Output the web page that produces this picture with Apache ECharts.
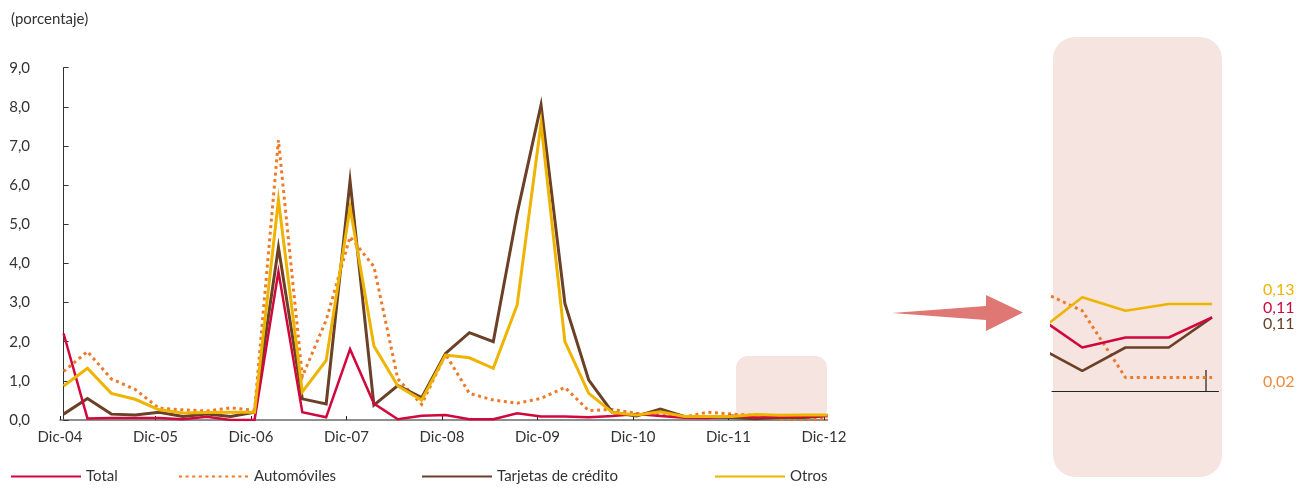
<!DOCTYPE html>
<html>
<head>
<meta charset="utf-8">
<script src="https://cdn.jsdelivr.net/npm/echarts@6/dist/echarts.min.js"></script>
<style>
  html, body { margin: 0; padding: 0; background: #ffffff; }
  #chart { width: 1302px; height: 488px; }
</style>
</head>
<body>
<div id="chart"></div>
<script>
// Quarterly periods, Dic-04 to Dic-12
const periods = [
  'Dic-04', 'Mar-05', 'Jun-05', 'Sep-05', 'Dic-05', 'Mar-06', 'Jun-06', 'Sep-06',
  'Dic-06', 'Mar-07', 'Jun-07', 'Sep-07', 'Dic-07', 'Mar-08', 'Jun-08', 'Sep-08',
  'Dic-08', 'Mar-09', 'Jun-09', 'Sep-09', 'Dic-09', 'Mar-10', 'Jun-10', 'Sep-10',
  'Dic-10', 'Mar-11', 'Jun-11', 'Sep-11', 'Dic-11', 'Mar-12', 'Jun-12', 'Sep-12',
  'Dic-12'
];

// Year-end tick labels on the time axis
const tickLabels = ['Dic-04', 'Dic-05', 'Dic-06', 'Dic-07', 'Dic-08', 'Dic-09', 'Dic-10', 'Dic-11', 'Dic-12'];

// Series values (porcentaje)
const total = [2.21, 0.04, 0.05, 0.05, 0.05, 0.02, 0.08, 0.00, 0.00, 3.79, 0.20, 0.07, 1.81, 0.42, 0.02, 0.11,
  0.13, 0.02, 0.02, 0.17, 0.09, 0.09, 0.07, 0.10, 0.15, 0.10, 0.06, 0.05, 0.11, 0.065, 0.08, 0.08, 0.11];
const automoviles = [1.24, 1.75, 1.05, 0.78, 0.30, 0.26, 0.23, 0.31, 0.25, 7.15, 1.11, 2.55, 4.68, 3.92, 1.05, 0.40,
  1.68, 0.68, 0.51, 0.43, 0.55, 0.83, 0.24, 0.27, 0.17, 0.13, 0.08, 0.20, 0.15, 0.12, 0.02, 0.02, 0.02];
const tarjetas = [0.15, 0.55, 0.15, 0.13, 0.20, 0.09, 0.15, 0.09, 0.20, 4.41, 0.54, 0.41, 6.11, 0.38, 0.88, 0.57,
  1.70, 2.23, 2.00, 5.28, 8.05, 2.98, 1.02, 0.19, 0.10, 0.28, 0.09, 0.07, 0.065, 0.03, 0.065, 0.065, 0.11];
const otros = [0.87, 1.32, 0.68, 0.53, 0.26, 0.18, 0.19, 0.20, 0.20, 5.62, 0.72, 1.52, 5.43, 1.89, 0.87, 0.51,
  1.66, 1.59, 1.32, 2.94, 7.58, 2.00, 0.68, 0.19, 0.13, 0.21, 0.09, 0.09, 0.09, 0.14, 0.12, 0.13, 0.13];

const seriesNames = ['Total', 'Automóviles', 'Tarjetas de crédito', 'Otros'];
const seriesValues = [total, automoviles, tarjetas, otros];
const colors = ['#d0083c', '#ec7a2a', '#6b4026', '#eeb400'];
const labelColors = ['#d0083c', '#f08a3c', '#6b4026', '#eeb400'];
const lineTypes = ['solid', [3, 3.6], 'solid', 'solid'];
const lineWidths = [2.5, 3, 3, 3];
const zOrder = [3, 2, 2, 4];

// The year ticks sit a little before each December point
const TICK_SHIFT = -0.15;
const tickValues = tickLabels.map((_, k) => k * 4 + TICK_SHIFT);
const insetStart = 28;          // first quarter shown in the magnified panel
const fontFamily = 'Lato, "Open Sans", sans-serif';
const txt = '#333333';

const fmt1 = v => v.toFixed(1).replace('.', ',');
const fmt2 = v => v.toFixed(2).replace('.', ',');

const pairs = (arr, from) => arr.slice(from).map((v, i) => [i + from, v]);

// End-label offsets in the magnified panel: Total, Automóviles, Tarjetas, Otros
const endOffsets = [[46, -10], [46, 4], [46, 6], [46, -14]];

const mainSeries = seriesNames.map((name, s) => ({
  name: name,
  type: 'line',
  xAxisIndex: 0,
  yAxisIndex: 0,
  data: pairs(seriesValues[s], 0),
  symbol: 'none',
  showSymbol: false,
  color: colors[s],
  lineStyle: { color: colors[s], width: lineWidths[s], type: lineTypes[s], cap: 'butt', join: 'miter' },
  z: zOrder[s]
}));

const insetSeries = seriesNames.map((name, s) => ({
  name: name,
  type: 'line',
  xAxisIndex: 1,
  yAxisIndex: 1,
  data: pairs(seriesValues[s], insetStart),
  symbol: 'none',
  showSymbol: false,
  clip: true,
  color: colors[s],
  lineStyle: { color: colors[s], width: s === 1 ? 3 : 2.6, type: lineTypes[s], cap: 'butt' },
  z: zOrder[s],
  endLabel: {
    show: true,
    formatter: p => fmt2(p.value[1]),
    color: labelColors[s],
    fontSize: 16,
    fontFamily: fontFamily,
    distance: 5,
    offset: endOffsets[s]
  }
}));

const legendLefts = [10, 178, 421, 714];
const legends = seriesNames.map((name, s) => ({
  data: [name],
  left: legendLefts[s],
  top: 469,
  padding: 0,
  itemWidth: 70,
  itemHeight: 14,
  itemGap: 0,
  selectedMode: false,
  itemStyle: { opacity: 0 },
  textStyle: { fontSize: 15, color: txt, fontFamily: fontFamily }
}));

const chart = echarts.init(document.getElementById('chart'), null, { renderer: 'canvas' });

chart.setOption({
  animation: false,
  backgroundColor: '#ffffff',
  textStyle: { fontFamily: fontFamily },
  title: {
    text: '(porcentaje)',
    left: 6,
    top: 7,
    textStyle: { fontSize: 15, fontWeight: 'normal', color: txt, fontFamily: fontFamily }
  },
  legend: legends,
  graphic: [
    {
      type: 'rect',
      shape: { x: 736, y: 356, width: 91, height: 65, r: 12 },
      style: { fill: '#f5e4e0' },
      z: 0
    },
    {
      type: 'rect',
      shape: { x: 1053, y: 37, width: 169, height: 440, r: 22 },
      style: { fill: '#f5e4e0' },
      z: 0
    },
    {
      type: 'polygon',
      shape: { points: [[892, 313], [986, 306], [986, 295], [1023, 312.5], [986, 331], [986, 320]] },
      style: { fill: '#df7874' },
      z: 0
    }
  ],
  grid: [
    { left: 60, right: 474.5, top: 67.7, bottom: 68 },
    { left: 1052, right: 83.5, top: 190.3, bottom: 97 }
  ],
  xAxis: [
    {
      gridIndex: 0,
      type: 'value',
      min: TICK_SHIFT,
      max: periods.length - 1,
      splitLine: { show: false },
      axisLine: { show: true, lineStyle: { color: '#6a6a6a', width: 1.5 } },
      axisTick: { show: true, inside: true, length: 4, customValues: tickValues, lineStyle: { color: '#222', width: 1 } },
      axisLabel: {
        customValues: tickValues,
        formatter: v => tickLabels[Math.round((v - TICK_SHIFT) / 4)],
        fontSize: 15, color: txt, margin: 10, fontFamily: fontFamily
      }
    },
    {
      gridIndex: 1,
      type: 'value',
      min: insetStart + 0.3,
      max: 32.15,
      splitLine: { show: false },
      axisLine: { show: true, onZero: false, lineStyle: { color: '#222', width: 1 } },
      axisTick: { show: true, inside: true, length: 21, customValues: [tickValues[tickValues.length - 1]], lineStyle: { color: '#444', width: 1.5 } },
      axisLabel: { show: false }
    }
  ],
  yAxis: [
    {
      gridIndex: 0,
      type: 'value',
      min: 0,
      max: 9,
      interval: 1,
      splitLine: { show: false },
      axisLine: { show: true, lineStyle: { color: '#333', width: 1 } },
      axisTick: { show: true, inside: true, length: 5, lineStyle: { color: '#333', width: 1 } },
      axisLabel: { formatter: fmt1, fontSize: 15, color: txt, margin: 30, fontFamily: fontFamily }
    },
    {
      gridIndex: 1,
      type: 'value',
      min: 0,
      max: 0.3,
      show: false
    }
  ],
  series: mainSeries.concat(insetSeries)
});
</script>
</body>
</html>
